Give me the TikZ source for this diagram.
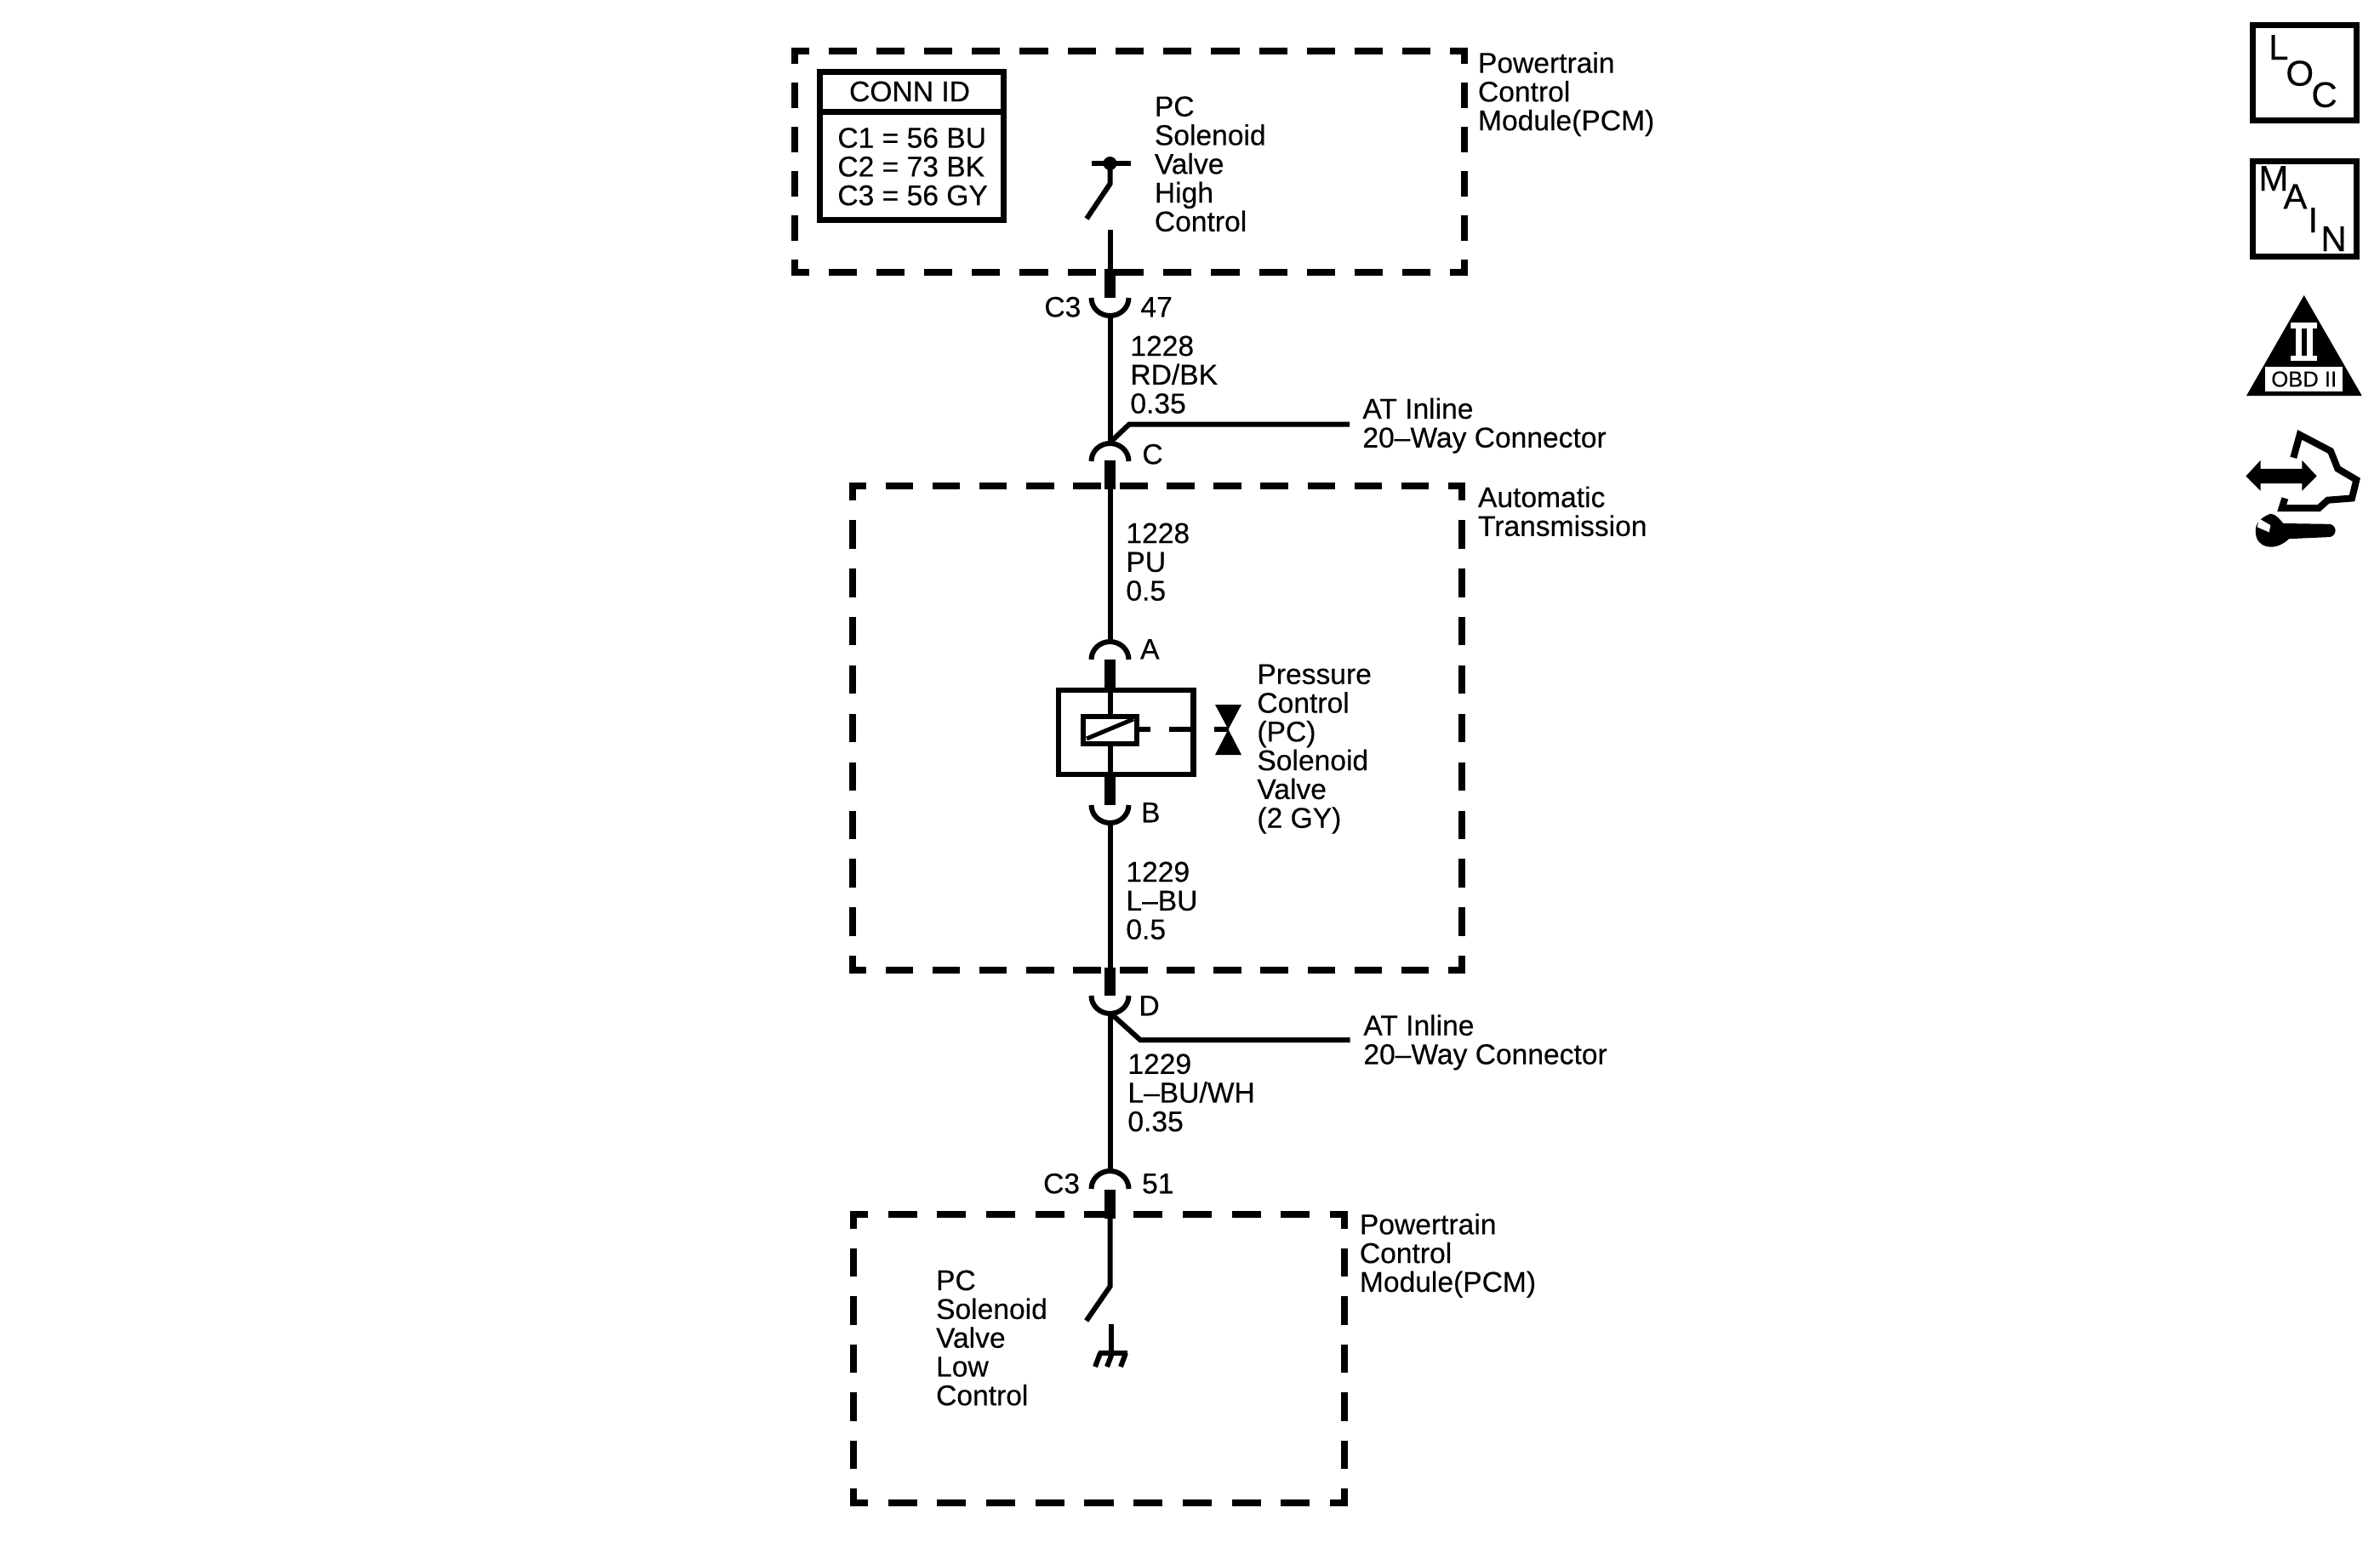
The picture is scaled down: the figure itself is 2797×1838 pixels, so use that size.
\documentclass[tikz,border=0pt]{standalone}
\usepackage{fontspec}
\setmainfont[FakeBold=0.3]{Liberation Sans}
\usetikzlibrary{positioning}
\newcommand{\wirefont}{\fontsize{16.8}{16.9}\selectfont}
\tikzset{
  lbl/.style={anchor=north west, inner sep=0pt, align=left, font=\wirefont, yshift=12.4pt, xshift=-0.5pt, execute at begin node=\strut},
  wire/.style={line width=3pt},
  stub/.style={line width=6.25pt},
  conn/.style={line width=3pt},
  icontxt/.style={anchor=base west, inner sep=0pt, font=\fontsize{21}{21}\selectfont},
}
\begin{document}
\begin{tikzpicture}[x=0.5pt, y=-0.5pt]
\useasboundingbox (0,0) rectangle (2797,1838);
\fill[white] (0,0) rectangle (2797,1838);
\pgfmathsetmacro{\xW}{1304.5}

% Dashed module outlines
\foreach \boxL/\boxT/\boxR/\boxB/\nH/\nV in {934/60/1721/320/14/5, 1002/571/1718/1140/13/10, 1003/1427/1580/1766/10/6}{
  \pgfmathsetmacro{\pH}{(\boxR-\boxL)/\nH/2}
  \pgfmathsetmacro{\pV}{(\boxB-\boxT)/\nV/2}
  \pgfmathsetmacro{\onH}{0.59*\pH}
  \pgfmathsetmacro{\offH}{\pH-\onH}
  \pgfmathsetmacro{\onV}{0.59*\pV}
  \pgfmathsetmacro{\offV}{\pV-\onV}
  \pgfmathsetmacro{\phH}{\onH/2-1.875}
  \pgfmathsetmacro{\phV}{\onV/2-1.875}
  \draw[line width=3.75pt, dash pattern=on \onH pt off \offH pt, dash phase=\phH pt] (\boxL-3.75,\boxT) -- (\boxR+3.75,\boxT);
  \draw[line width=3.75pt, dash pattern=on \onH pt off \offH pt, dash phase=\phH pt] (\boxL-3.75,\boxB) -- (\boxR+3.75,\boxB);
  \draw[line width=3.75pt, dash pattern=on \onV pt off \offV pt, dash phase=\phV pt] (\boxL,\boxT-3.75) -- (\boxL,\boxB+3.75);
  \draw[line width=3.75pt, dash pattern=on \onV pt off \offV pt, dash phase=\phV pt] (\boxR,\boxT-3.75) -- (\boxR,\boxB+3.75);
}

% Connector table
\draw[line width=3.5pt] (963.5,84.5) rectangle (1179,258);
\draw[line width=3.5pt] (963.5,131) -- (1179,131);
\node[inner sep=0pt, font=\wirefont] (connhead) at (1069,107.5) {CONN ID};
\node[lbl] (connlist) at (985,174.5) {C1 = 56 BU\\C2 = 73 BK\\C3 = 56 GY};

% Upper switch
\coordinate (swTop) at (\xW,192);
\coordinate (swKnee) at (\xW,216);
\coordinate (swEnd) at (1277,257);
\draw[line width=3.25pt] (1282.5,192) -- (1329,192);
\fill (swTop) circle (4pt);
\draw[wire] (swTop) -- (swKnee) -- (swEnd);
\node[lbl] (pchigh) at (1357.5,137.6) {PC\\Solenoid\\Valve\\High\\Control};
\node[lbl] (pcmtop) at (1737.6,85.6) {Powertrain\\Control\\Module(PCM)};

% C3 47
\coordinate (wireA) at (\xW,270);
\coordinate (stubA) at (\xW,316);
\coordinate (endA) at (\xW,350);
\draw[wire] (wireA) -- (stubA);
\draw[stub] (stubA) -- (endA);
\draw[conn] (\xW-22,350) arc[start angle=180, end angle=360, x radius=11pt, y radius=10.5pt];
\node[lbl] (c3a) at (1228,373) {C3};
\node[lbl] (pin47) at (1341,373) {47};

% Wire 1228 and inline C
\coordinate (botA) at (\xW,371);
\coordinate (topC) at (\xW,520);
\coordinate (kneeC) at (1327,498.6);
\coordinate (endC) at (1586,498.6);
\draw[wire] (botA) -- (topC);
\draw[wire] (topC) -- (kneeC) -- (endC);
\draw[conn] (\xW-22,542) arc[start angle=180, end angle=0, x radius=11pt, y radius=10.5pt];
\node[lbl] (w1228a) at (1329,419) {1228\\RD/BK\\0.35};
\node[lbl] (pinC) at (1343,546) {C};
\node[lbl] (inlineC) at (1602,492) {AT Inline\\20--Way Connector};

% Transmission side
\coordinate (stubC) at (\xW,541);
\coordinate (endStubC) at (\xW,575);
\coordinate (topPinA) at (\xW,752);
\draw[stub] (stubC) -- (endStubC);
\draw[wire] (endStubC) -- (topPinA);
\node[lbl] (w1228b) at (1324,639) {1228\\PU\\0.5};
\node[lbl] (trans) at (1737.6,596) {Automatic\\Transmission};
\draw[conn] (\xW-22,775) arc[start angle=180, end angle=0, x radius=11pt, y radius=10.5pt];
\node[lbl] (pinA) at (1340.7,775) {A};

% Solenoid
\coordinate (stubAtop) at (\xW,775);
\coordinate (solTop) at (\xW,811);
\coordinate (solBot) at (\xW,910);
\coordinate (stubBbot) at (\xW,946);
\draw[stub] (stubAtop) -- (solTop);
\draw[wire] (solTop) -- (solBot);
\draw[stub] (solBot) -- (stubBbot);
\draw[line width=3.15pt] (1244,811) rectangle (1402.6,910);
\draw[line width=3pt, fill=white] (1273,842) rectangle (1336,874);
\draw[line width=2.5pt] (1277,868) -- (1332,845);
\draw[wire] (1336,857) -- (1352,857);
\draw[wire] (1374,857) -- (1402,857);
\fill (1428,828) -- (1459,828) -- (1443.5,857) -- cycle;
\fill (1428,887) -- (1459,887) -- (1443.5,857) -- cycle;
\draw[wire] (1427,857) -- (1444,857);
\node[lbl] (valve) at (1478,805) {Pressure\\Control\\(PC)\\Solenoid\\Valve\\(2 GY)};

% Pin B and wire 1229
\draw[conn] (\xW-22,946) arc[start angle=180, end angle=360, x radius=11pt, y radius=10.5pt];
\node[lbl] (pinB) at (1341.7,967) {B};
\coordinate (botB) at (\xW,967);
\coordinate (stubD) at (\xW,1137);
\coordinate (endD) at (\xW,1170);
\draw[wire] (botB) -- (stubD);
\draw[stub] (stubD) -- (endD);
\node[lbl] (w1229a) at (1324,1037) {1229\\L--BU\\0.5};

% Inline D
\draw[conn] (\xW-22,1170) arc[start angle=180, end angle=360, x radius=11pt, y radius=10.5pt];
\node[lbl] (pinD) at (1339,1194) {D};
\coordinate (botD) at (\xW,1190);
\coordinate (kneeD) at (1340,1222);
\coordinate (endBranchD) at (1586.7,1222);
\coordinate (topC3b) at (\xW,1376);
\draw[wire] (botD) -- (kneeD) -- (endBranchD);
\draw[wire] (botD) -- (topC3b);
\node[lbl] (inlineD) at (1603,1216.7) {AT Inline\\20--Way Connector};
\node[lbl] (w1229b) at (1326,1262.7) {1229\\L--BU/WH\\0.35};

% C3 51
\draw[conn] (\xW-22,1397) arc[start angle=180, end angle=0, x radius=11pt, y radius=10.5pt];
\node[lbl] (c3b) at (1226.7,1403) {C3};
\node[lbl] (pin51) at (1342.7,1403) {51};
\coordinate (stubBtop) at (\xW,1398);
\coordinate (stubBend) at (\xW,1432);
\coordinate (swKneeB) at (\xW,1511.7);
\coordinate (swEndB) at (1276.7,1552);
\draw[stub] (stubBtop) -- (stubBend);
\draw[wire] (stubBend) -- (swKneeB) -- (swEndB);

% Ground
\draw[wire] (1306.3,1556) -- (1306.3,1590);
\draw[wire] (1291,1590) -- (1325,1590);
\foreach \xH in {1293,1307,1323}{
  \draw[line width=3pt] (\xH,1590) -- (\xH-6,1606);
}
\node[lbl] (pclow) at (1100.7,1517) {PC\\Solenoid\\Valve\\Low\\Control};
\node[lbl] (pcmbot) at (1598.5,1450.4) {Powertrain\\Control\\Module(PCM)};

% Side icons
\draw[line width=3.5pt] (2647.5,29) rectangle (2769,141);
\node[icontxt] (locL) at (2665.7,70) {L};
\node[icontxt] (locO) at (2686,100.6) {O};
\node[icontxt] (locC) at (2716,125.8) {C};
\draw[line width=3.5pt] (2647.5,189) rectangle (2769,301);
\node[icontxt] (mainM) at (2654,224) {M};
\node[icontxt] (mainA) at (2683,245.4) {A};
\node[icontxt] (mainI) at (2712,273) {I};
\node[icontxt] (mainN) at (2727,295) {N};

% OBD triangle
\fill (2707.7,347) -- (2775.7,465) -- (2640,465) -- cycle;
\fill[white] (2691.7,378.6) rectangle (2723,386);
\fill[white] (2691.7,417.6) rectangle (2723,424);
\fill[white] (2698,386) rectangle (2705,418);
\fill[white] (2711,386) rectangle (2717.5,418);
\fill[white] (2662,430.6) rectangle (2753.3,459.7);
\node[inner sep=0pt, font=\fontsize{12.8}{12.8}\selectfont] (obd) at (2707.7,445.5) {OBD II};

% Hand and wrench
\begin{scope}[shift={(2600,0)}, xscale=0.3333, yscale=0.4337]
\fill (118,1290) -- (170,1247) -- (170,1270) -- (316,1270) -- (316,1247) -- (368,1290) -- (316,1330) -- (316,1310) -- (170,1310) -- (170,1330) -- cycle;
\draw[line width=4pt] (286,1240) -- (308,1178) -- (417,1222) -- (442,1270) -- (508,1300) -- (492,1350) -- (407,1355) -- (375,1377) -- (245,1377) -- (256,1350);
\fill (250,1418) -- (415,1420) .. controls (440,1425) and (440,1450) .. (415,1455) -- (270,1460) .. controls (230,1490) and (170,1490) .. (155,1455) .. controls (145,1425) and (160,1405) .. (205,1392) .. controls (225,1392) and (240,1410) .. cycle;
\fill[white] (165,1405) -- (205,1423) -- (200,1442) -- (158,1428) -- cycle;
\end{scope}
\end{tikzpicture}
\end{document}
